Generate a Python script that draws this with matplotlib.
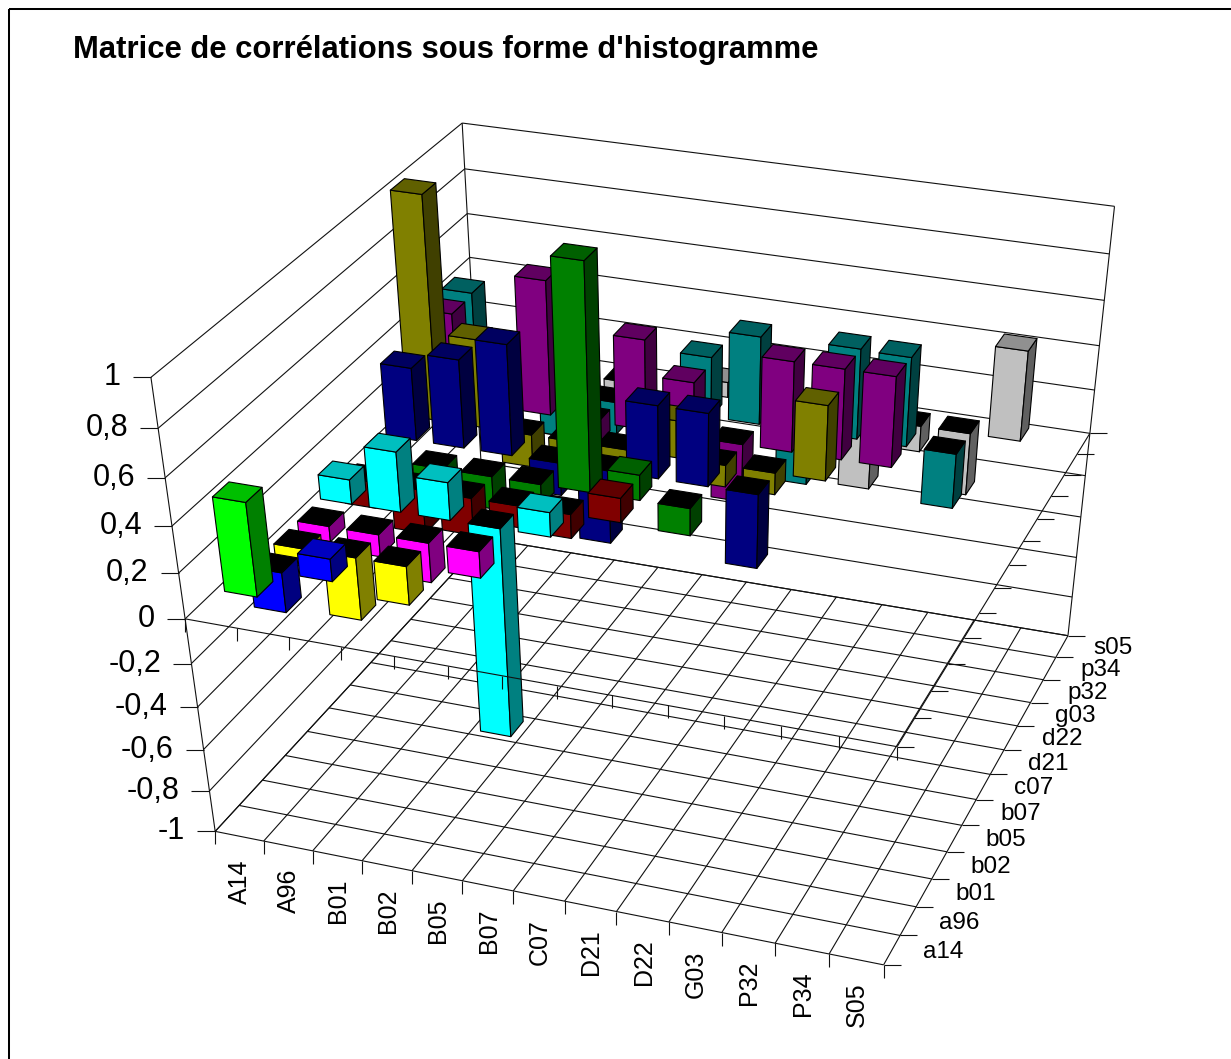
import matplotlib
matplotlib.use('Agg')
import matplotlib.pyplot as plt
from matplotlib.patches import Polygon, Rectangle
import numpy as np

plt.rcParams['font.family'] = ['Liberation Sans', 'DejaVu Sans']

# ── Data ──────────────────────────────────────────────────────────────────────
columns = ['A14', 'A96', 'B01', 'B02', 'B05', 'B07', 'C07', 'D21', 'D22', 'G03', 'P32', 'P34', 'S05']
rows = ['a14', 'a96', 'b01', 'b02', 'b05', 'b07', 'c07', 'd21', 'd22', 'g03', 'p32', 'p34', 's05']
z_labels = ['1', '0,8', '0,6', '0,4', '0,2', '0', '-0,2', '-0,4', '-0,6', '-0,8', '-1']
z_ticks = [1, 0.8, 0.6, 0.4, 0.2, 0, -0.2, -0.4, -0.6, -0.8, -1]

# lower triangle of the matrix, None = no bar
a96 = [0.41]
b01 = [-0.18, 0.10]
b02 = [-0.08, -0.285, -0.175]
b05 = [-0.07, -0.10, -0.18, -0.12]
b07 = [0.11, 0.27, 0.17, -1.00, 0.11]
c07 = [-0.12, -0.20, -0.17, -0.10, -0.11, 0.11]
d21 = [None, -0.10, -0.15, -0.10, 1.00, 0.115, -0.125]
d22 = [0.33, 0.40, 0.50, -0.15, -0.34, 0.33, 0.33, -0.345]
g03 = [1.00, 0.40, -0.15, -0.05, -0.10, 0.17, -0.10, -0.10, 0.34]
p32 = [0.40, None, 0.61, -0.10, 0.41, 0.25, -0.27, 0.41, 0.41, 0.41]
p34 = [0.41, None, -0.20, -0.15, -0.15, 0.275, 0.40, -0.25, 0.41, 0.405, -0.255]
s05 = [None, -0.16, None, -0.10, None, 0.07, None, None, -0.335, -0.12, -0.29, 0.41]
series = [[], a96, b01, b02, b05, b07, c07, d21, d22, g03, p32, p34, s05]
series_colors = ['#FF0000', '#00FF00', '#0000FF', '#FFFF00', '#FF00FF', '#00FFFF', '#800000',
                 '#008000', '#000080', '#808000', '#800080', '#008080', '#C0C0C0']

# ── Projection, fitted on the corners of the chart box ────────────────────────
N = 13
anchors = [
    ((0, 0, 1), (152, 376)), ((0, 0, 0), (185, 619)), ((0, 0, -1), (215, 832)),
    ((N, 0, -1), (883, 965)), ((N, 0, 0), (897, 747)),
    ((N, N, -1), (1068, 635)), ((N, N, 0), (1090, 433)), ((N, N, 1), (1115, 207)),
    ((0, N, 1), (461, 123)), ((0, N, 0), (474, 343)), ((0, N, -1), (486, 538)),
]
A = []
for (x, y, z), (u, v) in anchors:
    p = [x / N, y / N, z, 1]
    A.append(p + [0, 0, 0, 0] + [-u * c for c in p])
    A.append([0, 0, 0, 0] + p + [-v * c for c in p])
P = np.linalg.svd(np.array(A, dtype=float))[2][-1].reshape(3, 4)


def proj(x, y, z):
    h = P @ np.array([x / N, y / N, z, 1.0])
    return h[0] / h[2], h[1] / h[2]


fig = plt.figure(figsize=(12.31, 10.59), dpi=100)
ax = fig.add_axes([0, 0, 1, 1])
ax.set_xlim(0, 1231)
ax.set_ylim(1059, 0)
ax.axis('off')

ax.add_patch(Rectangle((9, 9), 1300, 1200, fill=False, ec='black', lw=1.45))


def line(p, q, lw=0.8, zorder=1, color='#111111'):
    ax.plot([p[0], q[0]], [p[1], q[1]], color=color, lw=lw, zorder=zorder, solid_capstyle='butt')


# ── Walls and floor ───────────────────────────────────────────────────────────
for z in z_ticks:
    line(proj(0, 0, z), proj(0, N, z))
    line(proj(0, N, z), proj(N, N, z))
line(proj(0, 0, -1), proj(0, 0, 1))
line(proj(0, N, -1), proj(0, N, 1))
line(proj(N, N, -1), proj(N, N, 1))
for k in range(N + 1):
    line(proj(k, 0, -1), proj(k, N, -1))
    line(proj(0, k, -1), proj(N, k, -1))

for z, lab in zip(z_ticks, z_labels):
    u, v = proj(0, 0, z)
    line((u - 18, v), (u, v))
    ax.text(u - 30, v, lab, ha='right', va='center', fontsize=22, color='black')

for k in range(N + 1):
    u, v = proj(k, 0, -1)
    line((u, v), (u, v + 13))
    u, v = proj(N, k, -1)
    line((u, v), (u + 17, v))

for k, lab in enumerate(columns):
    u, v = proj(k + 0.5, 0, -1)
    ax.text(u + 1, v + 23, lab, rotation=90, ha='center', va='top', fontsize=18, color='black')
for k, lab in enumerate(rows):
    u, v = proj(N, k + 0.5, -1)
    ax.text(u + 31, v + 1.5, lab, ha='left', va='center', fontsize=17.5, color='black')


# ── Bars, painted from the back row to the front row ──────────────────────────
def shade(col, f):
    rgb = np.array(matplotlib.colors.to_rgb(col)) * f
    return tuple(rgb)


def bar(i, j, val, col, zorder):
    m = 0.18
    x0, x1, y0, y1 = i + m, i + 1 - m, j + m, j + 1 - m
    top = max(val, 0)
    low = min(val, 0)
    front = [proj(x0, y0, low), proj(x1, y0, low), proj(x1, y0, top), proj(x0, y0, top)]
    side = [proj(x1, y0, low), proj(x1, y1, low), proj(x1, y1, top), proj(x1, y0, top)]
    cap = [proj(x0, y0, top), proj(x1, y0, top), proj(x1, y1, top), proj(x0, y1, top)]
    cap_col = shade(col, 0.75) if val > 0 else 'black'
    for poly, fc in ((front, col), (side, shade(col, 0.5)), (cap, cap_col)):
        ax.add_patch(Polygon(poly, closed=True, fc=fc, ec='black', lw=0.8, zorder=zorder, joinstyle='round'))


zo = 3
for j in range(len(series) - 1, -1, -1):
    for i, val in enumerate(series[j]):
        if val is not None:
            bar(i, j, val, series_colors[j], zo)
            zo += 1

# the z = 0 frame lies over the bars
line(proj(0, 0, 0), proj(N, 0, 0), zorder=zo)
line(proj(N, 0, 0), proj(N, N, 0), zorder=zo)
for k in range(N + 1):
    u, v = proj(k, 0, 0)
    line((u, v), (u, v + 13), zorder=zo)
    u, v = proj(N, k, 0)
    line((u, v), (u + 17, v), zorder=zo)

ax.text(73, 50, "Matrice de corrélations sous forme d'histogramme", ha='left', va='center',
        fontsize=22.3, fontweight='bold', color='black')

fig.savefig('out.png', dpi=100)
